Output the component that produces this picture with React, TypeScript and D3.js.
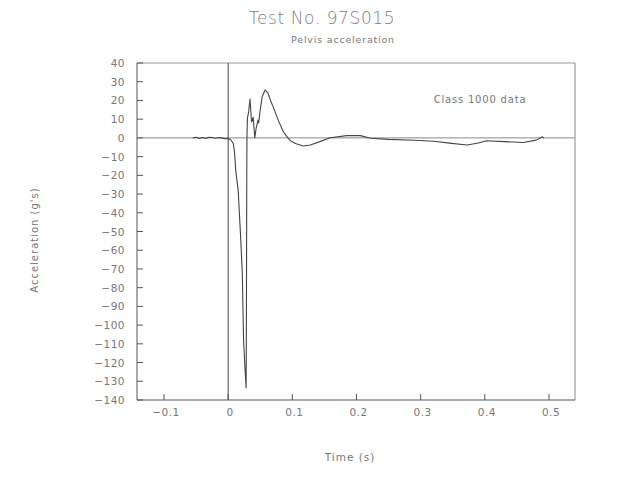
import React from "react";
import * as d3 from "d3";

const timeS: number[] = [
  -0.055, -0.05, -0.045, -0.04, -0.035, -0.03, -0.025, -0.02, -0.015, -0.01, -0.005, 0,
  0.004, 0.008, 0.01, 0.012, 0.0156, 0.019, 0.022, 0.023, 0.024, 0.026, 0.028,
  0.0283, 0.0287, 0.029, 0.0293, 0.03, 0.032, 0.034, 0.0365, 0.039, 0.0415, 0.0435,
  0.0465, 0.0475, 0.05, 0.053, 0.0575, 0.062, 0.066, 0.07, 0.078, 0.086, 0.093,
  0.097, 0.105, 0.117, 0.128, 0.143, 0.159, 0.185, 0.206, 0.222, 0.25, 0.29, 0.32,
  0.345, 0.372, 0.388, 0.403, 0.43, 0.46, 0.48, 0.49, 0.492,
];
const accelG: number[] = [
  0, 0.3, -0.3, 0.2, -0.3, 0.3, 0.2, -0.2, 0.2, 0, -0.5, -0.3,
  -1, -3, -8, -18, -28, -50, -72, -90, -108, -122, -133.5,
  -110, -60, -20, 0, 10.6, 14, 20.8, 8.5, 11, 0, 5,
  9.5, 8, 15, 22, 25.6, 24, 20, 16.7, 9.5, 3.3, 0,
  -1.5, -3, -4.3, -3.8, -2, 0.1, 1.2, 1.2, -0.2, -0.8, -1.3, -1.8,
  -2.8, -3.8, -2.9, -1.5, -2, -2.5, -1.2, 0.6, -0.2,
];
const xTicks: number[] = [-0.1, 0, 0.1, 0.2, 0.3, 0.4, 0.5];
const yTicks: number[] = [40, 30, 20, 10, 0, -10, -20, -30, -40, -50, -60, -70, -80, -90, -100, -110, -120, -130, -140];

const W = 628;
const H = 479;
const L = 137, R = 575, T = 63, B = 400;

export default function App() {
  const x = d3.scaleLinear().domain([-0.1, 0.5]).range([164, 549]);
  const y = d3.scaleLinear().domain([-140, 40]).range([B, T]);
  const pts = timeS.map((t, i) => [t, accelG[i]] as [number, number]);
  const line = d3.line<[number, number]>().x((d) => x(d[0])).y((d) => y(d[1]));
  const font = "'DejaVu Sans', 'Liberation Sans', sans-serif";
  const txt = "#777";
  const ax = "#555";
  const fmt = (v: number) => (v < 0 ? "\u2212" + Math.abs(v) : String(v));
  return (
    <svg width={W} height={H} style={{ position: "absolute", left: 0, top: 0, background: "#fff" }}>
      <text x={322} y={24} textAnchor="middle" fontFamily={font} fontSize={17} fill="#808080" fontWeight={200} letterSpacing={0.6}>
        Test No. 97S015
      </text>
      <text x={343} y={43} textAnchor="middle" fontFamily={font} fontSize={9.5} fill={txt} letterSpacing={0.8}>
        Pelvis acceleration
      </text>
      {/* frame */}
      <line x1={L} x2={L} y1={T} y2={B} stroke={ax} strokeWidth={1} />
      <line x1={L} x2={R} y1={B} y2={B} stroke={ax} strokeWidth={1} />
      <line x1={L} x2={R} y1={T} y2={T} stroke="#999" strokeWidth={1} />
      <line x1={R} x2={R} y1={T} y2={B} stroke="#888" strokeWidth={1} />
      {/* zero lines */}
      <line x1={L} x2={R} y1={y(0)} y2={y(0)} stroke="#888" strokeWidth={1} />
      <line x1={x(0)} x2={x(0)} y1={T} y2={B} stroke="#444" strokeWidth={1} />
      {/* y ticks */}
      {yTicks.map((v) => (
        <g key={"y" + v}>
          <line x1={L} x2={L + 6} y1={y(v)} y2={y(v)} stroke={ax} />
          <text x={L - 12} y={y(v) + 4} textAnchor="end" fontFamily={font} fontSize={10.5} fill={txt} letterSpacing={0.5}>
            {fmt(v)}
          </text>
        </g>
      ))}
      {/* x ticks */}
      {xTicks.map((v) => (
        <g key={"x" + v}>
          <line x1={x(v)} x2={x(v)} y1={B} y2={B - 6} stroke={ax} />
          <text x={x(v) + 2} y={B + 16} textAnchor="middle" fontFamily={font} fontSize={10.5} fill={txt} letterSpacing={0.5}>
            {fmt(v)}
          </text>
        </g>
      ))}
      <path d={line(pts) ?? ""} fill="none" stroke="#444" strokeWidth={1.1} strokeLinejoin="round" />
      <text x={480} y={103} textAnchor="middle" fontFamily={font} fontSize={10} fill={txt} letterSpacing={0.8}>
        Class 1000 data
      </text>
      <text x={350} y={461} textAnchor="middle" fontFamily={font} fontSize={10.5} fill={txt} letterSpacing={1}>
        Time (s)
      </text>
      <text transform="translate(38,240) rotate(-90)" textAnchor="middle" fontFamily={font} fontSize={10} fill={txt} letterSpacing={1}>
        Acceleration (g's)
      </text>
    </svg>
  );
}
